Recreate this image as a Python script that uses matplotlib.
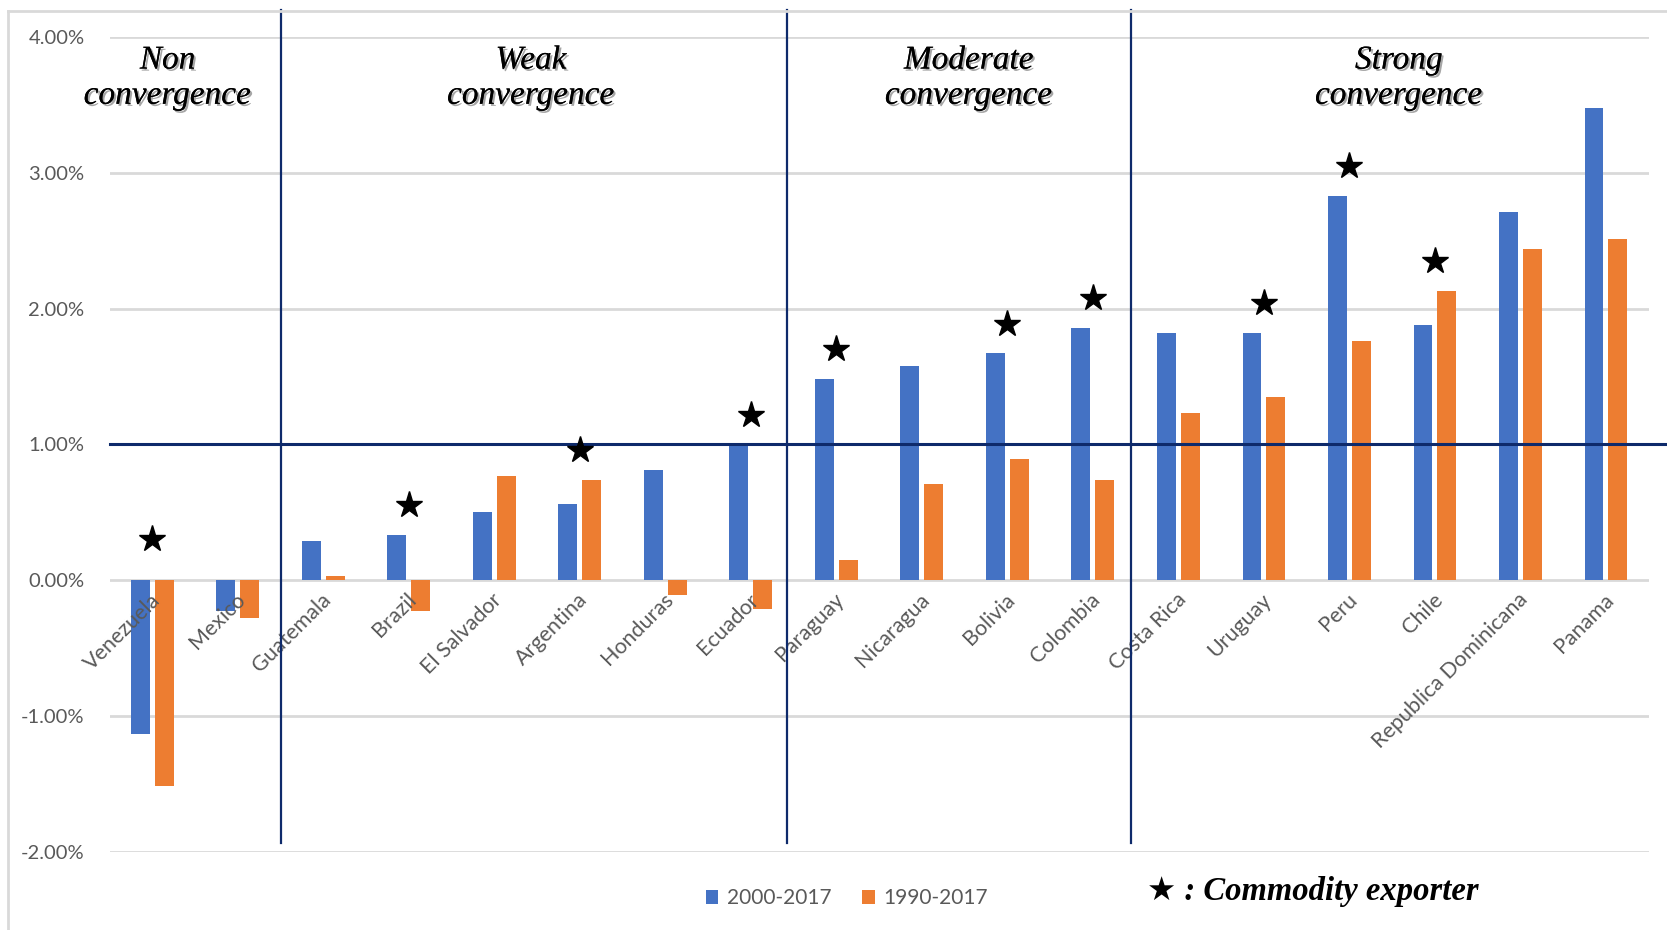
import matplotlib.pyplot as plt
import matplotlib.patheffects as pe
from matplotlib.lines import Line2D
import numpy as np

countries = ["Venezuela", "Mexico", "Guatemala", "Brazil", "El Salvador", "Argentina",
             "Honduras", "Ecuador", "Paraguay", "Nicaragua", "Bolivia", "Colombia",
             "Costa Rica", "Uruguay", "Peru", "Chile", "Republica Dominicana", "Panama"]
g_2000_2017 = [-1.13, -0.23, 0.29, 0.33, 0.50, 0.56, 0.81, 1.00, 1.48, 1.58, 1.67, 1.86,
               1.82, 1.82, 2.83, 1.88, 2.71, 3.48]
g_1990_2017 = [-1.52, -0.28, 0.03, -0.23, 0.77, 0.74, -0.11, -0.21, 0.15, 0.71, 0.89, 0.74,
               1.23, 1.35, 1.76, 2.13, 2.44, 2.51]
commodity = [1, 0, 0, 1, 0, 1, 0, 1, 1, 0, 1, 1, 0, 1, 1, 1, 0, 0]
groups = ["Non\nconvergence", "Weak\nconvergence", "Moderate\nconvergence", "Strong\nconvergence"]
yticks = [-2, -1, 0, 1, 2, 3, 4]

blue = "#4472C4"
orange = "#ED7D31"
navy = "#0E2A6B"
grid = "#D9D9D9"
gray = "#595959"

fig = plt.figure(figsize=(16.67, 9.3), dpi=100)
ax = fig.add_axes([0.0657, 0.0843, 0.9233, 0.8757])

x = np.arange(len(countries))
w = 0.22
ax.bar(x - 0.14, g_2000_2017, w, color=blue, zorder=3, label="2000-2017")
ax.bar(x + 0.14, g_1990_2017, w, color=orange, zorder=3, label="1990-2017")

ax.set_xlim(-0.5, len(countries) - 0.5)
ax.set_ylim(-2, 4)
for s in ax.spines.values():
    s.set_visible(False)
ax.set_xticks([])
ax.set_yticks(yticks)
ax.set_yticklabels(["%.2f%%" % v for v in yticks], fontsize=14.5, color=gray, family="Lato")
ax.tick_params(axis="y", length=0, pad=18)
for v in yticks:
    ax.axhline(v, color=grid, lw=2, zorder=1)

# threshold line at 1%
ax.plot([-0.5, 18.3], [1, 1], color=navy, lw=2.2, zorder=4, clip_on=False)

# group dividers
for xd in [1.5, 7.42, 11.45]:
    ax.plot([xd, xd], [-1.94, 4.2], color=navy, lw=1.6, zorder=4, clip_on=False)

# country labels
for i, name in enumerate(countries):
    ax.text(i - 0.03, -0.07, name, rotation=45, ha="right", va="top",
            rotation_mode="anchor", fontsize=15.5, color=gray, family="Lato")

# commodity exporter stars
for i in range(len(countries)):
    if commodity[i]:
        top = max(0.08, g_2000_2017[i], g_1990_2017[i])
        ax.plot(i, top + 0.22, marker="*", color="black", markersize=20, zorder=5)

# group titles
shadow = [pe.withSimplePatchShadow(offset=(1.5, -1.5), alpha=0.35), pe.Normal()]
for xc, label in zip([0.18, 4.43, 9.55, 14.58], groups):
    ax.text(xc, 3.7, label, ha="center", va="center", fontsize=24, style="italic",
            family="Liberation Serif", linespacing=1.2, path_effects=shadow, zorder=6)

leg = fig.legend(loc="center", bbox_to_anchor=(0.508, 0.034), ncol=2, frameon=False,
                 handlelength=0.6, handleheight=0.6, columnspacing=1.5,
                 handletextpad=0.4, prop={"family": "Lato", "size": 15})
for t in leg.get_texts():
    t.set_color(gray)

fig.text(0.688, 0.041, "★ : Commodity exporter", fontsize=23.5, style="italic",
         weight="bold", family=["Liberation Serif", "DejaVu Sans"], va="center")

# outer chart frame
fig.add_artist(Line2D([0.005, 0.005], [0, 0.9886], color=grid, lw=2))
fig.add_artist(Line2D([0.005, 1], [0.9886, 0.9886], color=grid, lw=2))

fig.savefig("out.png", dpi=100)
